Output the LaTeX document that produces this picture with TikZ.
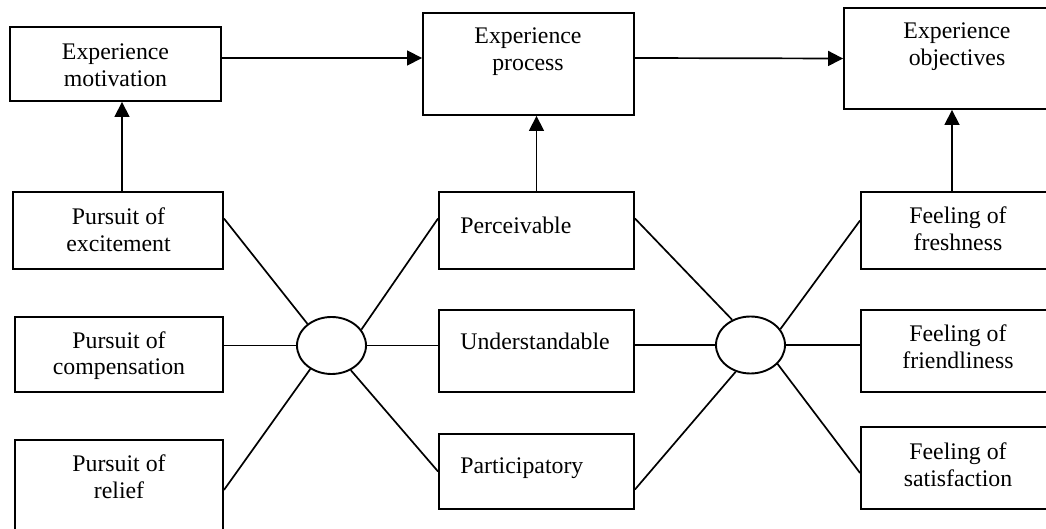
\documentclass[tikz,border=0pt]{standalone}
\usepackage{fontspec}
\setmainfont{Liberation Serif}
\usetikzlibrary{arrows.meta,positioning,shapes.geometric}

\begin{document}
\begin{tikzpicture}[x=0.5pt,y=-0.5pt,
	box/.style={draw, line width=0.95pt, inner sep=0pt},
	txt/.style={align=center, inner sep=0pt, font=\fontsize{11.9pt}{13.3pt}\selectfont},
	hub/.style={ellipse, draw, line width=0.95pt, minimum width=34.5pt, minimum height=28.5pt, inner sep=0pt},
	link/.style={line width=0.85pt},
	>={Triangle[length=7.5pt,width=7.5pt]}]
		\useasboundingbox (0,0) rectangle (1046,529);
		\clip (0,0) rectangle (1046,529);

		\node[box, minimum width=105.5pt, minimum height=37pt] (mot) at (115.5,64) {};
		\node[txt] (mot-t) at (115.5,65) {Experience\\motivation};
		\node[box, minimum width=105.5pt, minimum height=51pt] (proc) at (528.5,64) {};
		\node[txt] (proc-t) at (528,51.5) {Experience\\process};
		\node[box, minimum width=113pt, minimum height=50.5pt] (obj) at (957,58.5) {};
		\node[txt] (obj-t) at (957,46.5) {Experience\\objectives};

		\node[box, minimum width=105pt, minimum height=38.5pt] (exc) at (118,230.5) {};
		\node[txt] (exc-t) at (118.5,230) {Pursuit of\\excitement};
		\node[box, minimum width=104pt, minimum height=37.5pt] (comp) at (119,354.5) {};
		\node[txt] (comp-t) at (119,355.5) {Pursuit of\\compensation};
		\node[box, minimum width=104pt, minimum height=60pt] (rel) at (119,500) {};
		\node[txt] (rel-t) at (119,477) {Pursuit of\\relief};

		\node[box, minimum width=97.5pt, minimum height=38.5pt] (perc) at (536.5,230.5) {};
		\node[txt, anchor=west] (perc-t) at (460,225) {Perceivable};
		\node[box, minimum width=97.5pt, minimum height=41pt] (und) at (536.5,351) {};
		\node[txt, anchor=west] (und-t) at (460,341) {Understandable};
		\node[box, minimum width=97.5pt, minimum height=37.5pt] (part) at (536.5,471.5) {};
		\node[txt, anchor=west] (part-t) at (460,468) {Participatory};

		\node[box, minimum width=97pt, minimum height=38.5pt] (fresh) at (958,230.5) {};
		\node[txt] (fresh-t) at (958,228.5) {Feeling of\\freshness};
		\node[box, minimum width=97pt, minimum height=41pt] (friend) at (958,351) {};
		\node[txt] (friend-t) at (958,347) {Feeling of\\friendliness};
		\node[box, minimum width=97pt, minimum height=41pt] (sat) at (958,468) {};
		\node[txt] (sat-t) at (958,465) {Feeling of\\satisfaction};

		\node[hub] (e1) at (331.5,345.5) {};
		\node[hub] (e2) at (750.5,345) {};

		\draw[link,->] ([yshift=3pt]mot.east) -- ([yshift=3pt]proc.west);
		\draw[link,->] ([yshift=3pt]proc.east) -- (obj.west);
		\draw[link,->] ([xshift=2pt]exc.north) -- ([xshift=2pt]exc.north |- mot.south);
		\draw[link,->] (perc.north) -- (perc.north |- proc.south);
		\draw[link,->] ([xshift=-3pt]fresh.north) -- ([xshift=-3pt]fresh.north |- obj.south);

		\draw[link] ([yshift=6pt]exc.east) -- (e1.138);
		\draw[link] (e1.west -| comp.east) -- (e1.west);
		\draw[link] ([yshift=5pt]rel.east) -- (e1.228);
		\draw[link] (e1.28) -- ([yshift=6pt]perc.west);
		\draw[link] (e1.east) -- (e1.east -| und.west);
		\draw[link] (e1.-52) -- (part.west);

		\draw[link] ([yshift=6pt]perc.east) -- (e2.126);
		\draw[link] (und.east |- e2.west) -- (e2.west);
		\draw[link] ([yshift=-9pt]part.east) -- (e2.241);
		\draw[link] (e2.28) -- ([yshift=5pt]fresh.west);
		\draw[link] (e2.east) -- (e2.east -| friend.west);
		\draw[link] (e2.-35) -- ([yshift=-2.5pt]sat.west);
	\end{tikzpicture}
\end{document}
